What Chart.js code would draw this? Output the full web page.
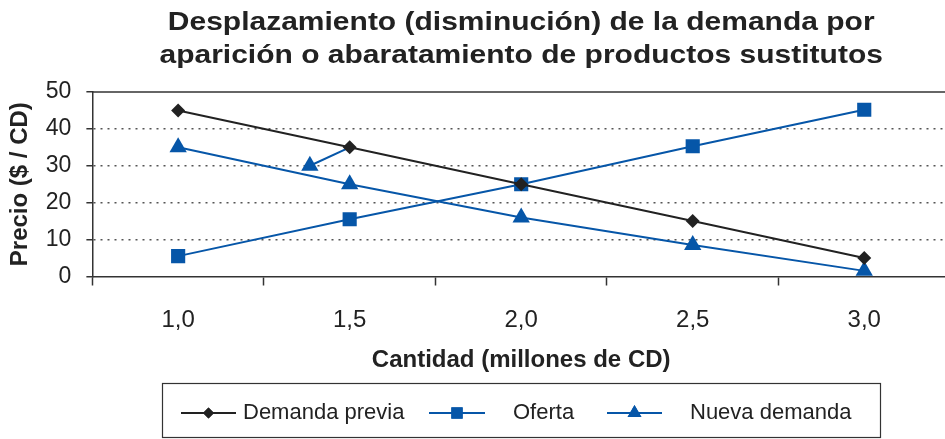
<!DOCTYPE html>
<html>
<head>
<meta charset="utf-8">
<script src="https://cdn.jsdelivr.net/npm/chart.js@4.4.1/dist/chart.umd.min.js"></script>
<style>
  html, body { margin: 0; padding: 0; background: #fff; overflow: hidden; }
  #wrap { width: 945px; height: 439px; overflow: hidden; }
</style>
</head>
<body>
<div id="wrap"><canvas id="myChart" width="955" height="439" style="width:955px;height:439px"></canvas></div>
<script>
// datos del gráfico
const cantidades = [1.0, 1.5, 2.0, 2.5, 3.0];
const demandaPrevia = [45, 35, 25, 15, 5];
const oferta = [5.5, 15.5, 25, 35.3, 45.2];
const nuevaDemanda = [35, 25, 16, 8.5, 1.5];
// flecha de desplazamiento (desde demanda previa hacia la nueva)
const flechaX = [1.5, 1.384];
const flechaY = [35, 30];
const titulo = ['Desplazamiento (disminución) de la demanda por', 'aparición o abaratamiento de productos sustitutos'];
const yTicks = [0, 10, 20, 30, 40, 50];

const azul = '#0656a8';
const negro = '#222222';
const fuente = "'Liberation Sans', Arial, sans-serif";

const toPts = (xs, ys) => xs.map((x, i) => ({ x: x, y: ys[i] }));

const legendItems = [
  { label: 'Demanda previa', color: negro, style: 'rectRot', r: 5.5, lineX: 181, lineW: 55, textX: 243 },
  { label: 'Oferta', color: azul, style: 'rect', r: 8, lineX: 429, lineW: 56, textX: 513 },
  { label: 'Nueva demanda', color: azul, style: 'triangle', r: 8, lineX: 607, lineW: 55, textX: 690 }
];

const extras = {
  id: 'extras',
  afterDraw(chart) {
    const ctx = chart.ctx;
    const ca = chart.chartArea;
    ctx.save();
    // título (algo más ancho que alto, como en el original)
    ctx.fillStyle = negro;
    ctx.font = 'bold 30px ' + fuente;
    ctx.textAlign = 'center';
    ctx.textBaseline = 'alphabetic';
    const cx = (ca.left + ca.right) / 2;
    const sy = 0.86;
    ctx.save();
    ctx.scale(1, sy);
    ctx.fillText(titulo[0], cx, 30 / sy);
    ctx.fillText(titulo[1], cx, 63 / sy);
    ctx.restore();
    // borde superior
    ctx.strokeStyle = '#333';
    ctx.lineWidth = 1.5;
    ctx.beginPath();
    ctx.moveTo(ca.left, ca.top);
    ctx.lineTo(ca.right, ca.top);
    ctx.stroke();
    // leyenda
    ctx.lineWidth = 1.2;
    ctx.strokeStyle = '#333';
    ctx.strokeRect(162.5, 383.5, 718, 54);
    const ly = 413;
    ctx.font = '22px ' + fuente;
    ctx.textAlign = 'left';
    ctx.textBaseline = 'middle';
    legendItems.forEach(it => {
      ctx.strokeStyle = it.color;
      ctx.lineWidth = 2;
      ctx.beginPath();
      ctx.moveTo(it.lineX, ly);
      ctx.lineTo(it.lineX + it.lineW, ly);
      ctx.stroke();
      ctx.fillStyle = it.color;
      Chart.helpers.drawPoint(ctx, { pointStyle: it.style, radius: it.r, borderWidth: 0, rotation: 0 }, it.lineX + it.lineW / 2, ly);
      ctx.fill();
      ctx.fillStyle = negro;
      ctx.fillText(it.label, it.textX, ly);
    });
    ctx.restore();
  }
};

const ctx = document.getElementById('myChart').getContext('2d');
new Chart(ctx, {
  type: 'line',
  data: {
    datasets: [
      {
        label: 'Demanda previa',
        data: toPts(cantidades, demandaPrevia),
        borderColor: negro, backgroundColor: negro,
        borderWidth: 2, pointStyle: 'rectRot', pointRadius: 7, pointBorderWidth: 0
      },
      {
        label: 'Oferta',
        data: toPts(cantidades, oferta),
        borderColor: azul, backgroundColor: azul,
        borderWidth: 2, pointStyle: 'rect', pointRadius: 10, pointBorderWidth: 0
      },
      {
        label: 'Nueva demanda',
        data: toPts(cantidades, nuevaDemanda),
        borderColor: azul, backgroundColor: azul,
        borderWidth: 2, pointStyle: 'triangle', pointRadius: 10, pointBorderWidth: 0
      },
      {
        label: 'flecha',
        data: toPts(flechaX, flechaY),
        borderColor: azul, backgroundColor: azul,
        borderWidth: 2, pointStyle: 'triangle', pointRadius: [0, 10], pointBorderWidth: 0
      }
    ]
  },
  options: {
    responsive: false,
    animation: false,
    layout: { autoPadding: false, padding: { top: 92, right: 5, bottom: 64, left: 6 } },
    plugins: {
      legend: { display: false },
      tooltip: { enabled: false },
      title: { display: false }
    },
    scales: {
      x: {
        type: 'linear',
        min: 0.75,
        max: 3.25,
        afterBuildTicks: axis => {
          const t = [];
          for (let v = 0.75; v <= 3.25 + 1e-9; v += 0.25) t.push({ value: v });
          axis.ticks = t;
        },
        ticks: {
          autoSkip: false,
          maxRotation: 0,
          padding: 0,
          color: negro,
          font: { family: fuente, size: 24 },
          callback: (v, i) => (i % 2 === 1 ? v.toFixed(1).replace('.', ',') : '')
        },
        grid: {
          drawOnChartArea: false,
          drawTicks: true,
          tickLength: 30,
          tickWidth: 1.5,
          tickBorderDash: [8, 200],
          tickColor: c => (c.index % 2 === 0 ? '#333' : 'rgba(0,0,0,0)')
        },
        border: { display: true, color: '#333', width: 1.5 },
        title: {
          display: true,
          text: 'Cantidad (millones de CD)',
          color: negro,
          font: { family: fuente, size: 24, weight: 'bold' },
          padding: { top: 11, bottom: 0 }
        }
      },
      y: {
        min: 0,
        max: 50,
        afterBuildTicks: axis => { axis.ticks = yTicks.map(v => ({ value: v })); },
        ticks: {
          color: negro,
          padding: 15,
          font: { family: fuente, size: 23 }
        },
        grid: {
          color: c => (c.tick && (c.tick.value === 0 || c.tick.value === 50) ? 'rgba(0,0,0,0)' : '#555'),
          lineWidth: 1.5,
          tickColor: '#333',
          tickLength: 6,
          tickWidth: 1.5
        },
        border: { display: true, color: '#333', width: 1.5, dash: [2, 5] },
        title: {
          display: true,
          text: 'Precio ($ / CD)',
          color: negro,
          font: { family: fuente, size: 24, weight: 'bold' },
          padding: { top: 0, bottom: -4 }
        }
      }
    }
  },
  plugins: [extras]
});
</script>
</body>
</html>
